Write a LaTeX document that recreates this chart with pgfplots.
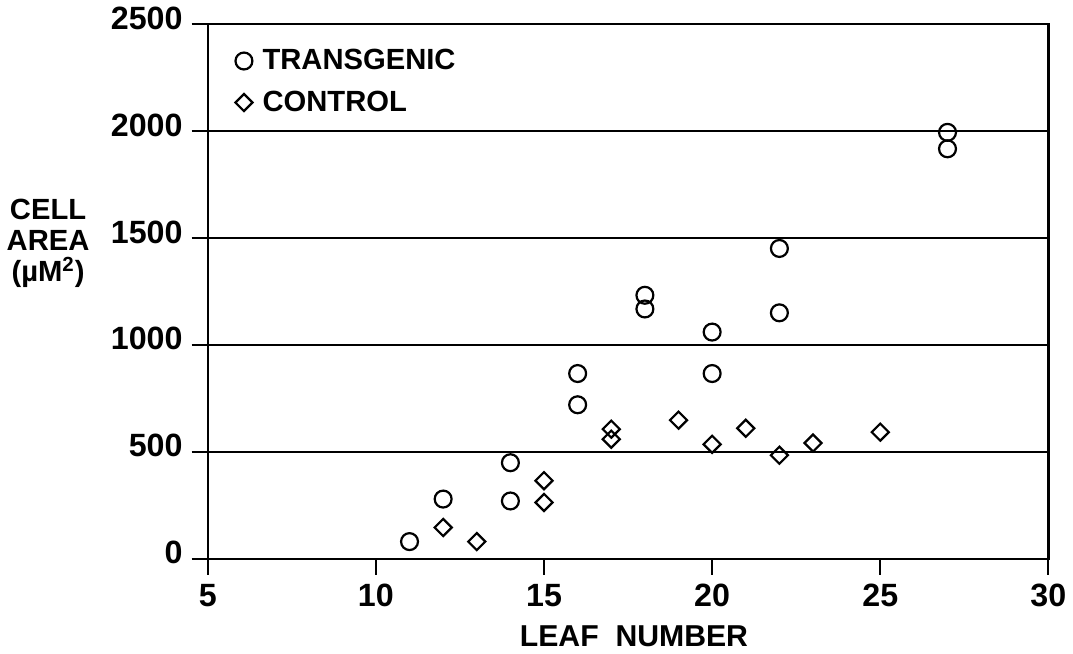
\documentclass[border=0pt]{standalone}
\usepackage{pgfplots}
\pgfplotsset{compat=1.18}
\usepackage{fontspec}
\setmainfont{Liberation Sans}
\begin{document}
\begin{tikzpicture}
\begin{axis}[
  scale only axis,
  width=417.5pt, height=265.5pt,
  xmin=5, xmax=30, ymin=0, ymax=2500,
  xtick={5,10,...,30}, ytick={0,500,...,2500},
  xtick pos=bottom, ytick pos=left,
  tick align=outside, major tick length=8pt,
  tick style={line width=1pt, black},
  axis line style={line width=1.2pt},
  ymajorgrids, major grid style={line width=1.2pt, black},
  /pgf/number format/assume math mode=true,
  /pgf/number format/1000 sep={},
  tick label style={font=\fontsize{16}{18}\selectfont\bfseries},
  xticklabel style={yshift=-1pt},
  yticklabel style={xshift=-1pt, yshift=3pt},
  xlabel={LEAF\ \ NUMBER},
  xlabel style={font=\fontsize{15}{17}\selectfont\bfseries, at={(axis description cs:0.507,-0.145)}, anchor=center},
  ylabel={CELL\\AREA\\(µM\textsuperscript{2})},
  ylabel style={font=\fontsize{14.5}{15.5}\selectfont\bfseries, rotate=-90, align=center, at={(axis description cs:-0.19,0.59)}, anchor=center},
  legend style={draw=none, fill=none, at={(axis description cs:0.03,0.965)}, anchor=north west,
    font=\fontsize{14.5}{16}\selectfont\bfseries, row sep=5pt, inner sep=1pt},
  legend cell align=left,
  legend image code/.code={\draw[#1] plot coordinates {(0.15cm,0cm)};},
  clip=false,
]
\addplot[only marks, mark=o, mark size=4.2pt, line width=1.1pt, mark options={line width=1.1pt}]
coordinates {
(11,80) (12,279) (14,449) (14,270) (16,866) (16,720) (18,1232) (18,1168)
(20,1060) (20,866) (22,1451) (22,1150) (27,1994) (27,1917)
};
\addlegendentry[mark size=3.3pt]{\hspace{3pt}TRANSGENIC}
\addplot[only marks, mark=square, mark size=3pt, line width=1.1pt, mark options={line width=1.1pt, rotate=45}]
coordinates {
(12,146) (13,80) (15,365) (15,263) (17,606) (17,559) (19,648) (20,535)
(21,610) (22,484) (23,541) (25,592)
};
\addlegendentry[mark size=2.4pt]{\hspace{3pt}CONTROL}
\end{axis}
\end{tikzpicture}
\end{document}
